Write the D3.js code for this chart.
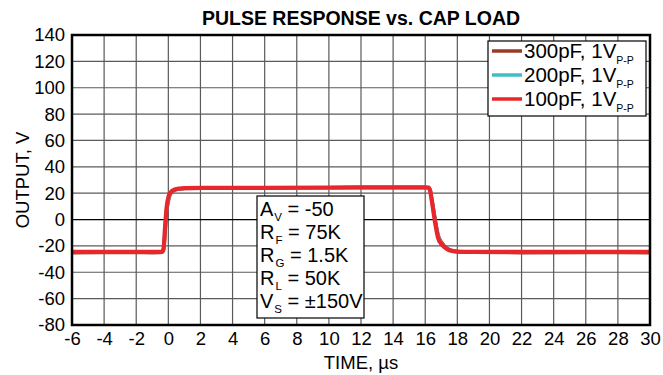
<!DOCTYPE html>
<html>
<head>
<meta charset="utf-8">
<script src="https://cdn.jsdelivr.net/npm/d3@7"></script>
<style>
  html, body { margin: 0; padding: 0; background: #fff; }
  svg { display: block; font-family: "Liberation Sans", Arial, sans-serif; }
</style>
</head>
<body>
<svg id="chart" width="663" height="375"></svg>
<script>
// Time axis (µs) shared by all three traces
const time = [-6, -3, -1, -0.5, -0.4, -0.3, -0.2, -0.1, 0, 0.1, 0.2, 0.4, 0.7, 1, 3, 6, 10, 14, 16,
  16.2, 16.3, 16.4, 16.5, 16.6, 16.7, 16.8, 17, 17.2, 17.5, 18, 19, 22, 26, 30];

// Output voltage (V) per load capacitance
const out300pF = [-25.1, -25.0, -25.1, -25.0, -24.9, -23.5, -9, 6, 14, 18.5, 20.5, 22.3, 23.2, 23.6, 23.9, 24.0, 24.2, 24.3, 24.3,
  24.2, 22.8, 16.5, 9, 1.5, -5.5, -11.5, -17, -20.2, -22.8, -24.4, -24.9, -25.1, -25.0, -25.1];
const out200pF = [-24.8, -24.7, -24.8, -24.8, -24.7, -22.8, -7, 8, 15.5, 19.2, 21, 22.5, 23.3, 23.7, 23.9, 24.0, 24.2, 24.3, 24.3,
  24.2, 22.5, 15.5, 8, 0.5, -6.5, -12.5, -18, -21, -23.2, -24.5, -24.8, -24.8, -24.7, -24.8];
const out100pF = [-24.5, -24.5, -24.6, -24.6, -24.5, -22, -5, 10, 17, 20, 21.5, 22.8, 23.5, 23.8, 24.0, 24.1, 24.3, 24.4, 24.4,
  24.3, 22, 15, 7, -1, -8, -14, -18.5, -21, -23.3, -24.3, -24.5, -24.6, -24.6, -24.6];

const xTicks = [-6, -4, -2, 0, 2, 4, 6, 8, 10, 12, 14, 16, 18, 20, 22, 24, 26, 28, 30];
const yTicks = [-80, -60, -40, -20, 0, 20, 40, 60, 80, 100, 120, 140];

const seriesNames = ["300pF, 1V", "200pF, 1V", "100pF, 1V"];
const seriesValues = [out300pF, out200pF, out100pF];
const seriesColors = ["#9c3a26", "#3fbec6", "#e8262b"];
const seriesWidths = [3.5, 3.5, 4.2];

const noteLines = [
  ["A", "V", " = -50"],
  ["R", "F", " = 75K"],
  ["R", "G", " = 1.5K"],
  ["R", "L", " = 50K"],
  ["V", "S", " = \u00B1150V"]
];

const svg = d3.select("#chart");
const m = { left: 72, right: 650, top: 35, bottom: 325 };

const x = d3.scaleLinear().domain([-6, 30]).range([m.left, m.right]);
const y = d3.scaleLinear().domain([-80, 140]).range([m.bottom, m.top]);

// Plain hyphen for negative tick values
const fmt = d => String(d);

// Title
svg.append("text")
  .attr("x", (m.left + m.right) / 2).attr("y", 25)
  .attr("text-anchor", "middle")
  .attr("font-size", 19.5).attr("font-weight", "bold")
  .text("PULSE RESPONSE vs. CAP LOAD");

// Grid
const grid = svg.append("g");
grid.selectAll(".vx").data(xTicks.slice(1, -1)).join("line")
  .attr("x1", d => x(d)).attr("x2", d => x(d))
  .attr("y1", m.top).attr("y2", m.bottom)
  .attr("stroke", "#5a5a5a").attr("stroke-width", 1.2);
grid.selectAll(".hy").data(yTicks.slice(1, -1)).join("line")
  .attr("x1", m.left).attr("x2", m.right)
  .attr("y1", d => y(d)).attr("y2", d => y(d))
  .attr("stroke", d => d === 0 ? "#000" : "#5a5a5a").attr("stroke-width", 1.2);

// Axes (labels only; frame drawn separately)
const xAxis = svg.append("g").attr("transform", `translate(0,${m.bottom})`)
  .call(d3.axisBottom(x).tickValues(xTicks).tickSize(0).tickPadding(7).tickFormat(fmt));
xAxis.select(".domain").remove();
xAxis.selectAll("text").attr("font-size", 18.5).attr("fill", "#000")
  .attr("font-family", "'Liberation Sans', Arial, sans-serif");

const yAxis = svg.append("g").attr("transform", `translate(${m.left},0)`)
  .call(d3.axisLeft(y).tickValues(yTicks).tickSize(0).tickPadding(7).tickFormat(fmt));
yAxis.select(".domain").remove();
yAxis.selectAll("text").attr("font-size", 18.5).attr("fill", "#000")
  .attr("font-family", "'Liberation Sans', Arial, sans-serif");

// Axis titles
svg.append("text")
  .attr("x", (m.left + m.right) / 2).attr("y", 369)
  .attr("text-anchor", "middle").attr("font-size", 18.5)
  .text("TIME, \u00B5s");
svg.append("text")
  .attr("transform", `translate(29,${(m.top + m.bottom) / 2}) rotate(-90)`)
  .attr("text-anchor", "middle").attr("font-size", 18.5)
  .text("OUTPUT, V");

// Traces
svg.append("clipPath").attr("id", "plotclip").append("rect")
  .attr("x", m.left).attr("y", m.top)
  .attr("width", m.right - m.left).attr("height", m.bottom - m.top);

const line = d3.line()
  .x(d => x(d[0])).y(d => y(d[1]))
  .curve(d3.curveMonotoneX);

const traces = svg.append("g").attr("clip-path", "url(#plotclip)");
seriesValues.forEach((vals, i) => {
  traces.append("path")
    .datum(time.map((t, k) => [t, vals[k]]))
    .attr("fill", "none")
    .attr("stroke", seriesColors[i])
    .attr("stroke-width", seriesWidths[i])
    .attr("stroke-linejoin", "round")
    .attr("d", line);
});

// Frame
svg.append("rect")
  .attr("x", m.left).attr("y", m.top)
  .attr("width", m.right - m.left).attr("height", m.bottom - m.top)
  .attr("fill", "none").attr("stroke", "#000").attr("stroke-width", 2.5);

// Legend
const lg = svg.append("g");
lg.append("rect")
  .attr("x", 488).attr("y", 41).attr("width", 158).attr("height", 75)
  .attr("fill", "#fff").attr("stroke", "#000").attr("stroke-width", 1.2);
seriesNames.forEach((name, i) => {
  const yy = 51 + i * 24;
  lg.append("line")
    .attr("x1", 492).attr("x2", 522).attr("y1", yy).attr("y2", yy)
    .attr("stroke", seriesColors[i]).attr("stroke-width", 3.5);
  const t = lg.append("text").attr("x", 524).attr("y", yy + 7).attr("font-size", 20.5);
  t.append("tspan").text(name);
  t.append("tspan").attr("font-size", 10.5).attr("dy", 6).text("P-P");
});

// Test-condition note
const noteX = 257, noteY = 196;
svg.append("rect")
  .attr("x", noteX).attr("y", noteY).attr("width", 107).attr("height", 122)
  .attr("fill", "#fff").attr("stroke", "#000").attr("stroke-width", 1.2);
noteLines.forEach((parts, i) => {
  const t = svg.append("text").attr("x", noteX + 3).attr("y", 216 + i * 23).attr("font-size", 20);
  t.append("tspan").text(parts[0]);
  t.append("tspan").attr("font-size", 11.5).attr("dy", 5).attr("dx", 1).text(parts[1]);
  t.append("tspan").attr("dy", -5).text(parts[2]);
});
</script>
</body>
</html>
